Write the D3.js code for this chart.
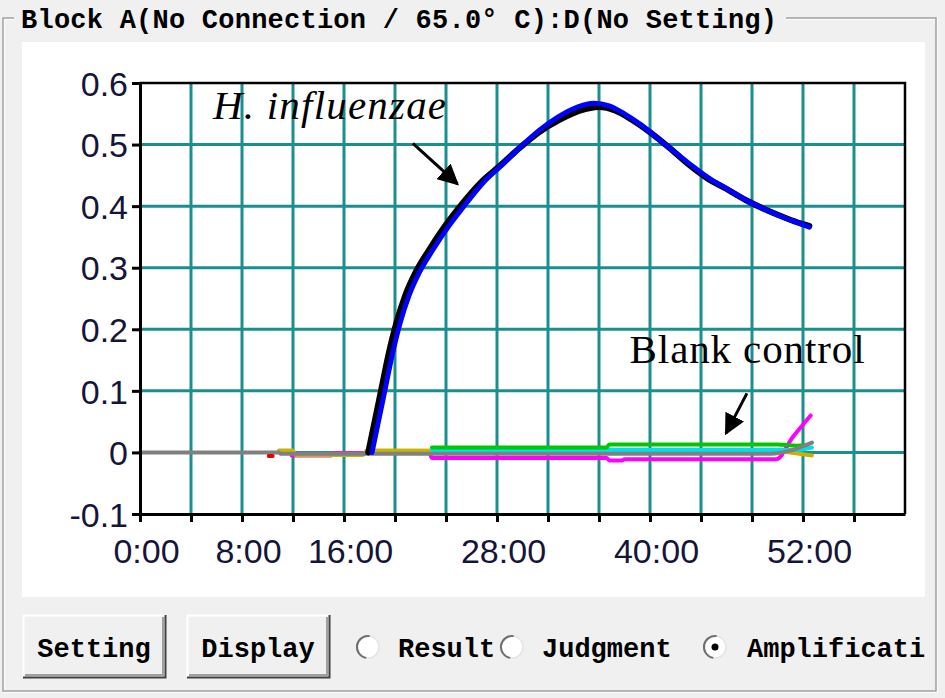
<!DOCTYPE html>
<html>
<head>
<meta charset="utf-8">
<script src="https://cdn.jsdelivr.net/npm/d3@7"></script>
<style>
  body { margin: 0; background: #f0f0f0; }
  svg { display: block; }
</style>
</head>
<body>
<div id="chart"></div>
<script>
// time in minutes, value = fluorescence
const blackCurve = [[17.9,0],[18.3,0.04],[18.9,0.1],[19.5,0.16],[20.1,0.21],[20.8,0.255],[21.6,0.292],[22.7,0.33],[24.0,0.37],[25.3,0.405],[26.8,0.44],[28.2,0.465],[29.8,0.495],[31.3,0.52],[32.9,0.54],[34.5,0.555],[36.0,0.561],[37.3,0.555],[38.6,0.54],[40.0,0.52],[41.5,0.495],[43.0,0.468],[44.5,0.445],[46.0,0.428],[47.5,0.41],[49.0,0.395],[50.5,0.382],[51.8,0.372],[52.5,0.368]];
const blueCurve = [[18.2,0],[18.6,0.04],[19.2,0.1],[19.8,0.16],[20.4,0.21],[21.1,0.255],[21.9,0.292],[23.0,0.33],[24.3,0.37],[25.6,0.405],[27.0,0.44],[28.4,0.467],[29.9,0.497],[31.3,0.523],[32.8,0.545],[34.3,0.561],[35.6,0.567],[36.8,0.563],[38.0,0.55],[39.3,0.532],[40.6,0.51],[42.0,0.487],[43.4,0.464],[44.8,0.443],[46.2,0.426],[47.7,0.408],[49.2,0.393],[50.7,0.38],[52.0,0.37],[52.5,0.366]];
const magentaCurve = [[11.9,-0.005],[15.0,-0.005],[15.2,-0.001],[22.7,-0.001],[22.9,-0.009],[36.6,-0.009],[36.8,-0.013],[37.8,-0.013],[38.0,-0.011],[49.9,-0.011],[51.2,0.025],[52.6,0.06]];
const yellowCurve = [[10.9,0.003],[12.0,0.003],[12.2,-0.004],[17.5,-0.004],[17.8,0.003],[49.5,0.002],[52.7,-0.005]];
const cyanCurve = [[22.9,0.004],[50.0,0.004],[51.5,0.004],[52.7,0.008]];
const greenCurve = [[22.9,0.008],[36.6,0.008],[36.8,0.013],[50.0,0.013],[51.5,0.011],[52.3,0.012]];
const grayCurve = [[0,0],[10.9,0],[11.0,-0.002],[49.5,-0.002],[51.0,0.003],[52.7,0.016]];
const redCurve = [[10.1,-0.006],[10.4,-0.006]];

const series = [
  { name: "magenta", color: "#ff00ff", width: 4, data: magentaCurve },
  { name: "yellow", color: "#c8b400", width: 4, data: yellowCurve },
  { name: "cyan", color: "#00e0f0", width: 4, data: cyanCurve },
  { name: "green", color: "#00c800", width: 4, data: greenCurve },
  { name: "gray", color: "#808080", width: 4, data: grayCurve },
  { name: "red", color: "#e00000", width: 4, data: redCurve },
  { name: "black", color: "#000000", width: 6, data: blackCurve },
  { name: "blue", color: "#0000ff", width: 5, data: blueCurve }
];

const xGridTicks = d3.range(0, 61, 4);
const xLabelTicks = [0, 8, 16, 28, 40, 52];
const xLabels = ["0:00", "8:00", "16:00", "28:00", "40:00", "52:00"];
const yTicks = [-0.1, 0, 0.1, 0.2, 0.3, 0.4, 0.5, 0.6];
const yLabels = ["-0.1", "0", "0.1", "0.2", "0.3", "0.4", "0.5", "0.6"];

const annotations = [
  { text: "H. influenzae", t: 5.73, v: 0.541, italic: true, len: 233, arrow: [[21.4, 0.502], [24.9, 0.436]] },
  { text: "Blank control", t: 38.4, v: 0.1445, italic: false, len: 235, arrow: [[47.6, 0.096], [45.96, 0.031]] }
];

const W = 945, H = 698;
const svg = d3.select("#chart").append("svg")
    .attr("width", W)
    .attr("height", H);

const monoFont = "'Liberation Mono', 'DejaVu Sans Mono', monospace";

// group box frame
svg.append("rect").attr("x", 4).attr("y", 19).attr("width", 933).attr("height", 673)
    .attr("fill", "none").attr("stroke", "#ffffff").attr("stroke-width", 1.5);
svg.append("rect").attr("x", 3).attr("y", 18).attr("width", 933).attr("height", 673)
    .attr("fill", "none").attr("stroke", "#a0a0a0").attr("stroke-width", 1.5);
svg.append("rect").attr("x", 14).attr("y", 2).attr("width", 772).attr("height", 32).attr("fill", "#f0f0f0");
svg.append("text")
    .attr("x", 21).attr("y", 28)
    .attr("font-family", monoFont)
    .attr("font-size", 27)
    .attr("font-weight", "bold")
    .attr("textLength", 756)
    .attr("fill", "#000")
    .text("Block A(No Connection / 65.0\u00b0 C):D(No Setting)");

// white chart panel
svg.append("rect").attr("x", 22).attr("y", 42).attr("width", 903).attr("height", 555).attr("fill", "#ffffff");

const x = d3.scaleLinear().domain([0, 60]).range([140, 905]);
const y = d3.scaleLinear().domain([-0.1, 0.6]).range([514, 83]);

const plot = svg.append("g");

// grid
plot.selectAll(".vgrid")
    .data(xGridTicks.filter(d => d > 0 && d < 60))
    .enter().append("line")
    .attr("x1", d => x(d)).attr("x2", d => x(d))
    .attr("y1", y(0.6)).attr("y2", y(-0.1))
    .attr("stroke", "#1b8f8f").attr("stroke-width", 3);

plot.selectAll(".hgrid")
    .data(yTicks.filter(d => d > -0.1 && d < 0.6))
    .enter().append("line")
    .attr("x1", x(0)).attr("x2", x(60))
    .attr("y1", d => y(d)).attr("y2", d => y(d))
    .attr("stroke", "#1b8f8f").attr("stroke-width", 3);

// top and right border
plot.append("path")
    .attr("d", `M${x(0)},${y(0.6)}H${x(60)}V${y(-0.1)}`)
    .attr("fill", "none").attr("stroke", "#000").attr("stroke-width", 2.5);

// data lines
const line = d3.line().x(d => x(d[0])).y(d => y(d[1])).curve(d3.curveMonotoneX);
plot.selectAll(".curve")
    .data(series)
    .enter().append("path")
    .attr("class", "curve")
    .attr("d", d => line(d.data))
    .attr("fill", "none")
    .attr("stroke", d => d.color)
    .attr("stroke-width", d => d.width)
    .attr("stroke-linejoin", "round")
    .attr("stroke-linecap", "round");

// axes
const xAxis = plot.append("g")
    .attr("transform", `translate(0,${y(-0.1)})`)
    .call(d3.axisBottom(x).tickValues(xGridTicks.filter(d => d < 60)).tickSize(8).tickSizeOuter(0)
        .tickFormat(d => { const i = xLabelTicks.indexOf(d); return i >= 0 ? xLabels[i] : ""; }));
xAxis.select(".domain").attr("stroke-width", 3);
xAxis.selectAll(".tick line").attr("stroke-width", 3);
xAxis.selectAll(".tick text")
    .attr("y", 49).attr("dy", 0).attr("dx", 6)
    .attr("font-family", "'Liberation Sans', Arial, sans-serif")
    .attr("font-size", 34)
    .attr("fill", "#15153a");

const yAxis = plot.append("g")
    .attr("transform", `translate(${x(0)},0)`)
    .call(d3.axisLeft(y).tickValues(yTicks).tickSize(8).tickSizeOuter(0)
        .tickFormat((d, i) => yLabels[i]));
yAxis.select(".domain").attr("stroke-width", 3);
yAxis.selectAll(".tick line").attr("stroke-width", 3);
yAxis.selectAll(".tick text")
    .attr("x", -12).attr("dy", "0.36em")
    .attr("font-family", "'Liberation Sans', Arial, sans-serif")
    .attr("font-size", 34)
    .attr("fill", "#15153a");

// annotations
svg.append("defs").append("marker")
    .attr("id", "head")
    .attr("viewBox", "0 0 10 10")
    .attr("refX", 9).attr("refY", 5)
    .attr("markerWidth", 7).attr("markerHeight", 7)
    .attr("markerUnits", "strokeWidth")
    .attr("orient", "auto")
    .append("path").attr("d", "M0,0L10,5L0,10Z").attr("fill", "#000");

annotations.forEach(a => {
    plot.append("text")
        .attr("x", x(a.t)).attr("y", y(a.v))
        .attr("font-family", "'Liberation Serif', 'Times New Roman', serif")
        .attr("font-style", a.italic ? "italic" : "normal")
        .attr("font-size", 41)
        .attr("textLength", a.len)
        .attr("fill", "#000")
        .text(a.text);
    plot.append("line")
        .attr("x1", x(a.arrow[0][0])).attr("y1", y(a.arrow[0][1]))
        .attr("x2", x(a.arrow[1][0])).attr("y2", y(a.arrow[1][1]))
        .attr("stroke", "#000").attr("stroke-width", 3)
        .attr("marker-end", "url(#head)");
});

// bottom controls
const buttons = [{ label: "Setting", x: 23 }, { label: "Display", x: 187 }];
buttons.forEach(b => {
    const g = svg.append("g").attr("transform", `translate(${b.x},615)`);
    g.append("rect").attr("width", 143).attr("height", 63).attr("fill", "#f0f0f0");
    g.append("path").attr("d", "M0.5,62V0.5H142").attr("fill", "none").attr("stroke", "#ffffff").attr("stroke-width", 2);
    g.append("path").attr("d", "M0,62.5H142.5V0").attr("fill", "none").attr("stroke", "#404040").attr("stroke-width", 2);
    g.append("path").attr("d", "M2,60H140V2").attr("fill", "none").attr("stroke", "#a0a0a0").attr("stroke-width", 2);
    g.append("text")
        .attr("x", 71).attr("y", 42)
        .attr("text-anchor", "middle")
        .attr("font-family", monoFont)
        .attr("font-size", 27)
        .attr("font-weight", "bold")
        .attr("fill", "#000")
        .text(b.label);
});

const radios = [
    { label: "Result", cx: 368, tx: 398, on: false },
    { label: "Judgment", cx: 512, tx: 542, on: false },
    { label: "Amplificati", cx: 715, tx: 747, on: true }
];
radios.forEach(r => {
    svg.append("circle").attr("cx", r.cx).attr("cy", 647).attr("r", 11)
        .attr("fill", "#ffffff").attr("stroke", "#e4e4e4").attr("stroke-width", 1.5);
    const arc = d3.arc().innerRadius(10).outerRadius(12).startAngle(-Math.PI * 0.95).endAngle(Math.PI * 0.05);
    svg.append("path").attr("d", arc()).attr("transform", `translate(${r.cx},647)`).attr("fill", "#707070");
    if (r.on) svg.append("circle").attr("cx", r.cx).attr("cy", 647).attr("r", 3.5).attr("fill", "#000");
});
radios.forEach(r => {
    svg.append("text")
        .attr("x", r.tx).attr("y", 657)
        .attr("font-family", monoFont)
        .attr("font-size", 27)
        .attr("font-weight", "bold")
        .attr("fill", "#000")
        .text(r.label);
});
</script>
</body>
</html>
